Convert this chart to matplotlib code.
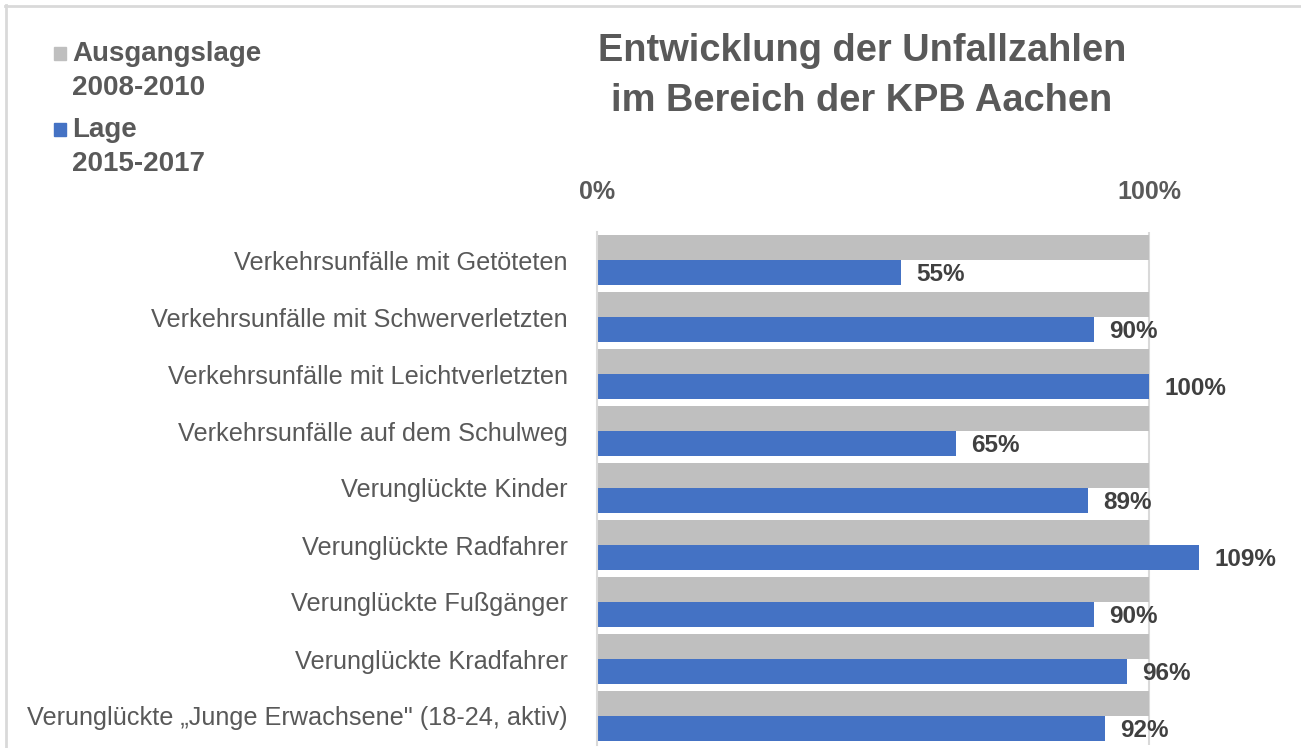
import matplotlib
matplotlib.use("Agg")
import matplotlib.pyplot as plt
from matplotlib.patches import Rectangle
from matplotlib.lines import Line2D
from matplotlib import font_manager

names = {f.name for f in font_manager.fontManager.ttflist}
FONT = "Liberation Sans Narrow" if "Liberation Sans Narrow" in names else "Liberation Sans"
plt.rcParams['font.family'] = [FONT, 'DejaVu Sans']

categories = [
    "Verkehrsunfälle mit Getöteten",
    "Verkehrsunfälle mit Schwerverletzten",
    "Verkehrsunfälle mit Leichtverletzten",
    "Verkehrsunfälle auf dem Schulweg",
    "Verunglückte Kinder",
    "Verunglückte Radfahrer",
    "Verunglückte Fußgänger",
    "Verunglückte Kradfahrer",
    "Verunglückte „Junge Erwachsene\" (18-24, aktiv)",
]
baseline = [100, 100, 100, 100, 100, 100, 100, 100, 100]
current = [55, 90, 100, 65, 89, 109, 90, 96, 92]
series_names = ["Ausgangslage\n2008-2010", "Lage\n2015-2017"]
title = "Entwicklung der Unfallzahlen\nim Bereich der KPB Aachen"

GRAY = "#BFBFBF"
BLUE = "#4472C4"
TXT = "#595959"
DARK = "#404040"

W, H = 1301, 748
fig = plt.figure(figsize=(W / 100, H / 100), dpi=100)

def fx(px):
    return px / W

def fy(py):
    return 1 - py / H

# axes: x from 597 (0%) ; 552 px per 100%
x0 = 597
xmax = 125
x1 = x0 + 552 * xmax / 100
ytop, ybot = 231.5, 745
ax = fig.add_axes([fx(x0), fy(ybot), fx(x1) - fx(x0), fy(ytop) - fy(ybot)])
n = len(categories)
pitch = 57.0
ax.set_xlim(0, xmax)
ax.set_ylim((ybot - 260) / pitch, (ytop - 260) / pitch)

bh = 25 / pitch
off = 12.5 / pitch
ys = list(range(n))
ax.barh([y - off for y in ys], baseline, height=bh, color=GRAY, zorder=2)
ax.barh([y + off for y in ys], current, height=bh, color=BLUE, zorder=2)
ax.axvline(100, color="#D9D9D9", lw=1.5, zorder=1)

for y, v in zip(ys, current):
    ax.text(v + 2.8, y + off + 0.03, f"{v}%", ha="left", va="center",
            fontsize=17.5, fontweight="bold", color=DARK)

for s in ["top", "right", "bottom"]:
    ax.spines[s].set_visible(False)
ax.spines["left"].set_color("#D9D9D9")
ax.spines["left"].set_linewidth(1.5)
ax.set_yticks(ys)
ax.set_yticklabels(categories, fontsize=18.2, color=TXT)
ax.tick_params(axis="y", length=0, pad=21)
ax.xaxis.tick_top()
ax.set_xticks([0, 100])
ax.set_xticklabels(["0%", "100%"], fontsize=18, fontweight="bold", color=TXT)
ax.tick_params(axis="x", length=0, pad=20)

fig.text(fx(862), fy(76), title, ha="center", va="center", fontsize=27.4,
         fontweight="bold", color=TXT, linespacing=1.52)

# legend
for (py, col, lab) in [(53, GRAY, series_names[0]), (129, BLUE, series_names[1])]:
    fig.patches.append(Rectangle((fx(54), fy(py + 7)), fx(12), fy(py - 6) - fy(py + 7),
                                 transform=fig.transFigure, color=col))
    fig.text(fx(72), fy(py - 12), lab, ha="left", va="top", fontsize=20,
             fontweight="bold", color=TXT, linespacing=1.4)

# figure border (top and left)
fig.lines.append(Line2D([fx(5), 1], [fy(6), fy(6)], transform=fig.transFigure,
                        color="#D9D9D9", lw=2))
fig.lines.append(Line2D([fx(6), fx(6)], [fy(5), 0], transform=fig.transFigure,
                        color="#D9D9D9", lw=2))

fig.savefig("out.png", dpi=100)
